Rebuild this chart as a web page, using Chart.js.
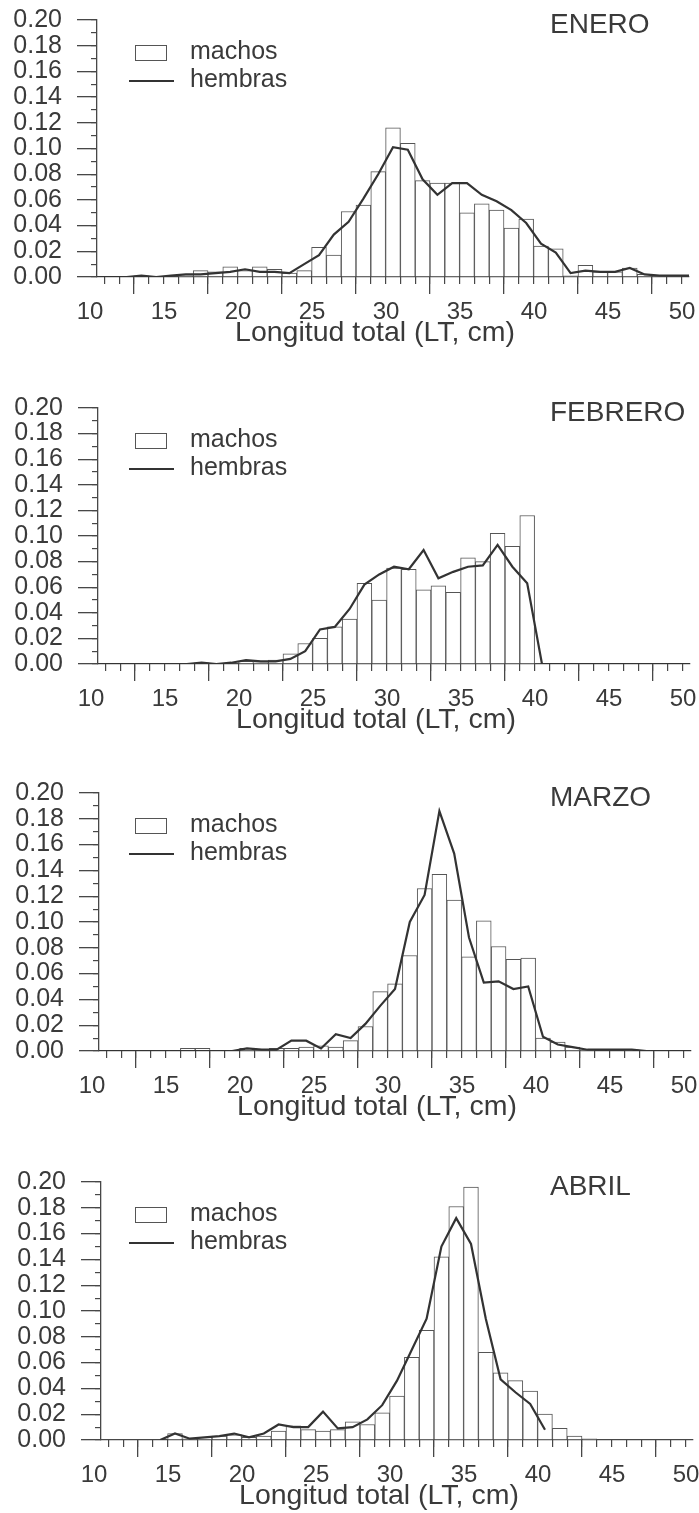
<!DOCTYPE html>
<html><head><meta charset="utf-8">
<script src="https://cdn.jsdelivr.net/npm/chart.js@4.4.0/dist/chart.umd.min.js"></script>
<style>
body{margin:0;background:#fff;}
#wrap{position:relative;width:699px;height:1513px;overflow:hidden;background:#fff;font-family:"Liberation Sans",Arial,sans-serif;color:#3a3a3a;}
.cv{position:absolute;left:0;}
.txt{position:absolute;white-space:nowrap;}
.box{position:absolute;box-sizing:border-box;border:1.3px solid #555;background:#fff;}
.ln{position:absolute;background:#333;}
</style></head>
<body><div id="wrap"></div>
<script>
// ---- data (relative frequency by total length, cm) ----
const LENGTHS = [10,11,12,13,14,15,16,17,18,19,20,21,22,23,24,25,26,27,28,29,30,31,32,33,34,35,36,37,38,39,40,41,42,43,44,45,46,47,48,49,50];
const MONTHS = ['ENERO','FEBRERO','MARZO','ABRIL'];
const X_TICK_LABELS = ['10','15','20','25','30','35','40','45','50'];
const Y_TICK_LABELS = ['0.00','0.02','0.04','0.06','0.08','0.10','0.12','0.14','0.16','0.18','0.20'];
const X_TITLE = 'Longitud total (LT, cm)';
const LEGEND_LABELS = ['machos','hembras'];

const machosEnero = [0,0,0,0.001,0,0,0.001,0.005,0.004,0.008,0.005,0.008,0.006,0.003,0.005,0.023,0.017,0.051,0.056,0.082,0.116,0.104,0.075,0.073,0.073,0.050,0.057,0.052,0.038,0.045,0.024,0.022,0.001,0.009,0.004,0.004,0.007,0.002,0.001,0.001,0];
const hembrasEnero = [0,0,0,0.001,0,0.001,0.002,0.002,0.003,0.004,0.006,0.004,0.004,0.003,0.010,0.017,0.033,0.043,0.061,0.080,0.101,0.099,0.076,0.064,0.073,0.073,0.064,0.059,0.052,0.042,0.026,0.019,0.003,0.005,0.004,0.004,0.007,0.002,0.001,0.001,0.001];

const machosFebrero = [0,0,0,0,0,0,0,0.001,0,0,0.002,0.001,0.003,0.008,0.016,0.020,0.029,0.035,0.063,0.050,0.075,0.074,0.058,0.061,0.056,0.083,0.080,0.102,0.092,0.116,0,0,0,0,0,0,0,0,0,0,0];
const hembrasFebrero = [0,0,0,0,0,0,0,0.001,0,0.001,0.003,0.002,0.002,0.004,0.010,0.027,0.029,0.043,0.062,0.070,0.076,0.074,0.089,0.067,0.072,0.076,0.077,0.093,0.076,0.063,0,0,0,0,0,0,0,0,0,0,0];

const machosMarzo = [0,0,0,0,0,0,0.002,0.002,0,0,0.002,0.001,0.002,0.002,0.003,0.004,0.003,0.008,0.019,0.046,0.052,0.074,0.126,0.137,0.117,0.073,0.101,0.081,0.071,0.072,0.010,0.007,0.003,0.001,0,0,0.001,0,0,0,0];
const hembrasMarzo = [0,0,0,0,0,0,0,0,0,0,0.002,0.001,0.001,0.008,0.008,0.002,0.013,0.010,0.021,0.035,0.048,0.100,0.121,0.186,0.153,0.088,0.053,0.054,0.048,0.050,0.011,0.005,0.003,0.001,0.001,0.001,0.001,0,0,0,0];

const machosAbril = [0,0,0,0,0,0.005,0.001,0.002,0.003,0.004,0.002,0.003,0.007,0.011,0.008,0.007,0.008,0.014,0.012,0.021,0.034,0.064,0.085,0.142,0.181,0.196,0.068,0.052,0.046,0.038,0.020,0.009,0.003,0.001,0,0,0,0,0,0,0];
const hembrasAbril = [null,null,null,null,0,0.005,0.001,0.002,0.003,0.005,0.002,0.005,0.012,0.010,0.010,0.022,0.009,0.010,0.016,0.027,0.046,0.070,0.094,0.150,0.172,0.152,0.094,0.047,0.037,0.028,0.008,null,null,null,null,null,null,null,null,null,null];

const MACHOS = [machosEnero, machosFebrero, machosMarzo, machosAbril];
const HEMBRAS = [hembrasEnero, hembrasFebrero, hembrasMarzo, hembrasAbril];

// ---- layout ----
const PANEL_TOP = [20, 408, 793, 1182];   // pixel of y = 0.20
const PANEL_H = [257, 256, 258, 258];     // plot height
const PANEL_L = [97, 98, 99, 101];        // y-axis x position
const PX_PER_CM = 14.8;
const PADTOP = 20, XAXIS_H = 80;
const FONT = '"Liberation Sans", Arial, sans-serif';
const INK = '#3a3a3a', AXIS = '#474747';

const wrap = document.getElementById('wrap');
function addTxt(text, left, top, size, extra){
  const d = document.createElement('div');
  d.className = 'txt'; d.textContent = text;
  d.style.left = left + 'px'; d.style.top = top + 'px';
  d.style.fontSize = size + 'px'; d.style.lineHeight = size + 'px';
  if (extra) Object.assign(d.style, extra);
  wrap.appendChild(d); return d;
}

MONTHS.forEach((m, k) => {
  const T = PANEL_TOP[k], H = PANEL_H[k], L = PANEL_L[k];
  const right = L + 40 * PX_PER_CM;
  const cv = document.createElement('canvas');
  cv.className = 'cv';
  cv.width = 699; cv.height = PADTOP + H + XAXIS_H;
  cv.style.top = (T - PADTOP) + 'px';
  wrap.appendChild(cv);

  new Chart(cv, {
    type: 'bar',
    data: { datasets: [
      { type: 'line', label: LEGEND_LABELS[1], data: LENGTHS.map((x, i) => ({x, y: HEMBRAS[k][i]})),
        borderColor: '#333', borderWidth: 2.2, pointRadius: 0, tension: 0, order: 0, spanGaps: false,
        xAxisID: 'x', yAxisID: 'y' },
      { type: 'bar', label: LEGEND_LABELS[0], data: LENGTHS.map((x, i) => ({x, y: MACHOS[k][i]})),
        backgroundColor: '#ffffff', borderColor: '#555', borderWidth: 1, borderSkipped: 'start',
        barPercentage: 1, categoryPercentage: 1, order: 1, xAxisID: 'x', yAxisID: 'y' }
    ]},
    options: {
      responsive: false, animation: false, events: [],
      layout: { padding: { top: PADTOP, left: 0, right: 699 - right, bottom: 0 } },
      plugins: { legend: { display: false }, tooltip: { enabled: false } },
      scales: {
        x: { type: 'linear', position: 'bottom', weight: 1, min: 10, max: 50, offset: false,
             ticks: { stepSize: 5, autoSkip: false, maxRotation: 0, padding: 4, labelOffset: -7,
                      color: INK, font: { family: FONT, size: 24 }, callback: (v, i) => X_TICK_LABELS[i] },
             grid: { drawOnChartArea: false, drawTicks: true, tickLength: 17, color: AXIS, lineWidth: 1.3 },
             border: { display: true, color: AXIS, width: 1.3 },
             afterFit(s) { s.height = XAXIS_H; s.paddingLeft = 0; s.paddingRight = 0; } },
        xm: { type: 'linear', position: 'bottom', weight: 0, min: 10, max: 50, offset: false,
             ticks: { stepSize: 1, display: false },
             grid: { drawOnChartArea: false, drawTicks: true, tickLength: 7, color: AXIS, lineWidth: 1.2 },
             border: { display: false },
             afterFit(s) { s.height = 0; s.paddingLeft = 0; s.paddingRight = 0; } },
        y: { type: 'linear', position: 'left', weight: 1, min: 0, max: 0.2,
             ticks: { stepSize: 0.02, autoSkip: false, padding: 15, color: INK, font: { family: FONT, size: 25 },
                      callback: (v, i) => Y_TICK_LABELS[i] },
             grid: { drawOnChartArea: false, drawTicks: true, tickLength: 20, color: AXIS, lineWidth: 1.3 },
             border: { display: true, color: AXIS, width: 1.3 },
             afterFit(s) { s.width = L; s.paddingTop = 0; s.paddingBottom = 0; } },
        ym: { type: 'linear', position: 'left', weight: 0, min: 0, max: 0.2,
             ticks: { stepSize: 0.01, display: false },
             grid: { drawOnChartArea: false, drawTicks: true, tickLength: 6, color: AXIS, lineWidth: 1.2 },
             border: { display: false },
             afterFit(s) { s.width = 0; s.paddingTop = 0; s.paddingBottom = 0; } }
      }
    }
  });

  // month label, legend, axis title (text)
  addTxt(m, 550, T + 13.5 - 0.8465 * 28, 28);
  const bx = document.createElement('div'); bx.className = 'box';
  Object.assign(bx.style, { left: '135px', top: (T + 25) + 'px', width: '32px', height: '16px' });
  wrap.appendChild(bx);
  const ln = document.createElement('div'); ln.className = 'ln';
  Object.assign(ln.style, { left: '129px', top: (T + 59.5) + 'px', width: '45px', height: '2.2px' });
  wrap.appendChild(ln);
  addTxt(LEGEND_LABELS[0], 190, T + 39.5 - 0.8465 * 25, 25);
  addTxt(LEGEND_LABELS[1], 190, T + 67.3 - 0.8465 * 25, 25);
  const axisY = T + H;
  addTxt(X_TITLE, L + 278 - 200, axisY + 64.5 - 0.8465 * 28.5, 28.5, { width: '400px', textAlign: 'center' });
});
</script>
</body></html>
